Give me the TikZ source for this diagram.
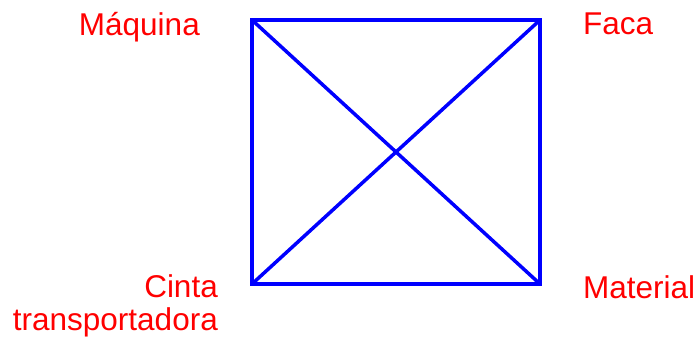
\documentclass[tikz,border=0pt]{standalone}
\usepackage{fontspec}
\setmainfont{Liberation Sans}
\begin{document}
\begin{tikzpicture}[x=1pt,y=1pt,
  lbl/.style={text=red,inner sep=0pt,font=\fontsize{31.5}{33}\selectfont},
  edge/.style={blue,line width=3.5pt}]
\useasboundingbox (0,0) rectangle (697,338);
\coordinate (TL) at (252,318);
\coordinate (TR) at (540,318);
\coordinate (BL) at (252,54);
\coordinate (BR) at (540,54);
\draw[edge,line join=miter] (TL) -- (TR) -- (BR) -- (BL) -- cycle;
\draw[edge] (TL) -- (BR);
\draw[edge] (TR) -- (BL);
\node[lbl,anchor=base east] (maq) at (200,302) {Máquina};
\node[lbl,anchor=base west] (faca) at (583,303) {Faca};
\node[lbl,anchor=base west] (mat) at (583,40) {Material};
\node[lbl,anchor=base east,align=right] (cinta) at (218,8) {Cinta\\transportadora};
\end{tikzpicture}
\end{document}
